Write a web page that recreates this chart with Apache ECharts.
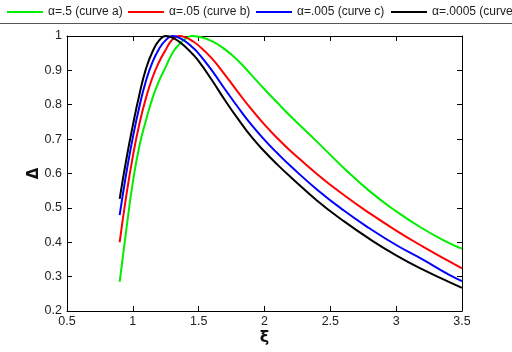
<!DOCTYPE html>
<html>
<head>
<meta charset="utf-8">
<script src="https://cdn.jsdelivr.net/npm/echarts@6/dist/echarts.min.js"></script>
<style>
html,body{margin:0;padding:0;background:#fff;}
#chart{width:512px;height:352px;}
</style>
</head>
<body>
<div id="chart"></div>
<script>
// ---- data ----
var xi = [0.9, 0.95, 1.0, 1.05, 1.1, 1.15, 1.2, 1.25, 1.3, 1.35, 1.4, 1.45, 1.5, 1.6, 1.7, 1.8, 1.9, 2.0, 2.1, 2.2, 2.4, 2.6, 2.8, 3.0, 3.2, 3.4, 3.5];
var curveA = [0.285, 0.435, 0.575, 0.68, 0.755, 0.82, 0.87, 0.91, 0.95, 0.975, 0.992, 1.0, 0.998, 0.985, 0.961, 0.928, 0.887, 0.845, 0.805, 0.766, 0.692, 0.617, 0.548, 0.49, 0.44, 0.398, 0.381];
var curveB = [0.40, 0.535, 0.65, 0.745, 0.82, 0.88, 0.925, 0.96, 0.99, 1.0, 0.996, 0.986, 0.972, 0.935, 0.887, 0.836, 0.787, 0.742, 0.702, 0.665, 0.598, 0.538, 0.484, 0.434, 0.388, 0.345, 0.324];
var curveC = [0.479, 0.60, 0.705, 0.795, 0.87, 0.925, 0.963, 0.988, 1.0, 0.995, 0.984, 0.968, 0.949, 0.90, 0.845, 0.792, 0.742, 0.698, 0.658, 0.621, 0.553, 0.493, 0.44, 0.392, 0.35, 0.306, 0.287];
var curveD = [0.526, 0.64, 0.74, 0.83, 0.905, 0.955, 0.987, 1.0, 0.995, 0.984, 0.968, 0.949, 0.927, 0.872, 0.813, 0.758, 0.707, 0.664, 0.625, 0.589, 0.521, 0.462, 0.409, 0.362, 0.321, 0.285, 0.267];
var seriesNames = ['\u03b1=.5 (curve a)', '\u03b1=.05 (curve b)', '\u03b1=.005 (curve c)', '\u03b1=.0005 (curve d)'];
var seriesColors = ['#00ee00', '#ff0000', '#0000ff', '#000000'];
var xTicks = {min: 0.5, max: 3.5, step: 0.5};
var yTicks = {min: 0.2, max: 1.0, step: 0.1};
var xName = '\u03be';
var yName = '\u0394';

function pairs(ys){ return xi.map(function(x,i){ return [x, ys[i]]; }); }
var allCurves = [curveA, curveB, curveC, curveD];

var font = 'Liberation Sans, Arial, sans-serif';
var legendLefts = [7, 128, 256, 391];

var legends = seriesNames.map(function(n, i){
  return {
    data: [n], left: legendLefts[i], top: 6, itemWidth: 36, itemHeight: 2,
    itemGap: 0, padding: 0,
    icon: 'rect',
    textStyle: {fontFamily: font, fontSize: 12, color: '#222'}
  };
});

var baseAxis = {
  axisLine: {show: true, lineStyle: {color: '#000', width: 1}},
  axisTick: {show: true, inside: true, length: 5, lineStyle: {color: '#000'}},
  splitLine: {show: false}
};

var option = {
  animation: false,
  backgroundColor: '#fff',
  legend: legends,
  graphic: [{type: 'line', shape: {x1: 0, y1: 23.5, x2: 512, y2: 23.5}, style: {stroke: '#555', lineWidth: 1}}],
  grid: {left: 67, right: 50, top: 36, bottom: 41},
  xAxis: [
    Object.assign({}, baseAxis, {
      type: 'value', min: xTicks.min, max: xTicks.max, interval: xTicks.step, position: 'bottom',
      name: xName, nameLocation: 'middle', nameGap: 19, nameMoveOverlap: false,
      nameTextStyle: {fontFamily: 'DejaVu Sans', fontSize: 16, fontWeight: 'bold', color: '#111'},
      axisLabel: {fontFamily: font, fontSize: 12.5, color: '#222', margin: 4}
    }),
    Object.assign({}, baseAxis, {
      type: 'value', min: xTicks.min, max: xTicks.max, interval: xTicks.step, position: 'top',
      axisLabel: {show: false}
    })
  ],
  yAxis: [
    Object.assign({}, baseAxis, {
      type: 'value', min: yTicks.min, max: yTicks.max, interval: yTicks.step, position: 'left',
      name: yName, nameLocation: 'middle', nameGap: 25, nameMoveOverlap: false,
      nameTextStyle: {fontFamily: 'DejaVu Sans', fontSize: 15, fontWeight: 'bold', color: '#111'},
      axisLabel: {fontFamily: font, fontSize: 12.5, color: '#222', margin: 5}
    }),
    Object.assign({}, baseAxis, {
      type: 'value', min: yTicks.min, max: yTicks.max, interval: yTicks.step, position: 'right',
      axisLabel: {show: false}
    })
  ],
  series: allCurves.map(function(c, i){
    return {
      name: seriesNames[i], type: 'line', data: pairs(c), smooth: 0.5,
      showSymbol: false, symbol: 'none', color: seriesColors[i],
      lineStyle: {color: seriesColors[i], width: 2}
    };
  })
};

var chart = echarts.init(document.getElementById('chart'), null, {renderer: 'canvas'});
chart.setOption(option);
</script>
</body>
</html>
